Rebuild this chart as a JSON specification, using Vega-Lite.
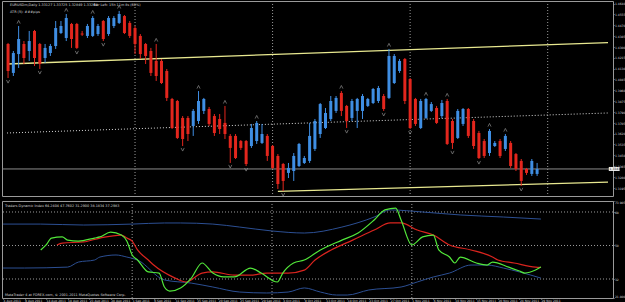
{
  "$schema": "https://vega.github.io/schema/vega-lite/v6.json",
  "background": "#000000",
  "padding": 0,
  "spacing": 1,
  "config": {
    "view": {"stroke": "#9a9a9a", "strokeWidth": 1},
    "axis": {"labelColor": "#d8d8d8", "labelFont": "DejaVu Sans", "labelFontSize": 3, "domain": false, "ticks": true, "tickColor": "#9a9a9a", "tickSize": 1, "grid": false, "labelOverlap": false, "labelPadding": 0.4},
    "text": {"font": "DejaVu Sans", "fontSize": 3.4, "color": "#d8d8d8", "align": "left", "baseline": "middle"}
  },
  "datasets": {
    "bars": [
      {"i":0,"o":1.4323,"h":1.4331,"l":1.4056,"c":1.4111,"f":"dn"},
      {"i":1,"o":1.4096,"h":1.4268,"l":1.4072,"c":1.4252},
      {"i":2,"o":1.4244,"h":1.4464,"l":1.4135,"c":1.4362,"f":"up"},
      {"i":3,"o":1.4323,"h":1.4346,"l":1.4166,"c":1.4213},
      {"i":4,"o":1.4268,"h":1.4425,"l":1.4190,"c":1.4346},
      {"i":5,"o":1.4425,"h":1.4433,"l":1.4150,"c":1.4213},
      {"i":6,"o":1.4323,"h":1.4331,"l":1.4127,"c":1.4166,"f":"dn"},
      {"i":7,"o":1.4213,"h":1.4323,"l":1.4174,"c":1.4292},
      {"i":8,"o":1.4252,"h":1.4323,"l":1.4229,"c":1.4307},
      {"i":9,"o":1.4307,"h":1.4503,"l":1.4284,"c":1.4448},
      {"i":10,"o":1.4409,"h":1.4503,"l":1.4401,"c":1.4464},
      {"i":11,"o":1.4370,"h":1.4558,"l":1.4346,"c":1.4527,"f":"up"},
      {"i":12,"o":1.4480,"h":1.4488,"l":1.4292,"c":1.4362},
      {"i":13,"o":1.4480,"h":1.4488,"l":1.4284,"c":1.4292,"f":"dn"},
      {"i":14,"o":1.4405,"h":1.4425,"l":1.4386,"c":1.4397},
      {"i":15,"o":1.4386,"h":1.4480,"l":1.4370,"c":1.4464},
      {"i":16,"o":1.4386,"h":1.4542,"l":1.4378,"c":1.4527,"f":"up"},
      {"i":17,"o":1.4401,"h":1.4480,"l":1.4386,"c":1.4464},
      {"i":18,"o":1.4503,"h":1.4511,"l":1.4346,"c":1.4362,"f":"dn"},
      {"i":19,"o":1.4401,"h":1.4542,"l":1.4386,"c":1.4527},
      {"i":20,"o":1.4464,"h":1.4542,"l":1.4448,"c":1.4527},
      {"i":21,"o":1.4488,"h":1.4582,"l":1.4480,"c":1.4558,"f":"up"},
      {"i":22,"o":1.4542,"h":1.4550,"l":1.4401,"c":1.4409},
      {"i":23,"o":1.4488,"h":1.4503,"l":1.4370,"c":1.4386},
      {"i":24,"o":1.4448,"h":1.4464,"l":1.4244,"c":1.4323},
      {"i":25,"o":1.4386,"h":1.4401,"l":1.4205,"c":1.4244},
      {"i":26,"o":1.4323,"h":1.4331,"l":1.4166,"c":1.4229},
      {"i":27,"o":1.4268,"h":1.4292,"l":1.4072,"c":1.4096},
      {"i":28,"o":1.4190,"h":1.4323,"l":1.4033,"c":1.4072,"f":"up"},
      {"i":29,"o":1.4190,"h":1.4205,"l":1.4009,"c":1.4017},
      {"i":30,"o":1.4111,"h":1.4127,"l":1.3876,"c":1.3900},
      {"i":31,"o":1.3892,"h":1.3900,"l":1.3656,"c":1.3664},
      {"i":32,"o":1.3876,"h":1.3884,"l":1.3578,"c":1.3586},
      {"i":33,"o":1.3743,"h":1.3758,"l":1.3523,"c":1.3578,"f":"dn"},
      {"i":34,"o":1.3743,"h":1.3758,"l":1.3562,"c":1.3617},
      {"i":35,"o":1.3680,"h":1.3813,"l":1.3602,"c":1.3798},
      {"i":36,"o":1.3719,"h":1.3954,"l":1.3696,"c":1.3876,"f":"up"},
      {"i":37,"o":1.3798,"h":1.3900,"l":1.3774,"c":1.3892},
      {"i":38,"o":1.3813,"h":1.3829,"l":1.3680,"c":1.3696},
      {"i":39,"o":1.3758,"h":1.3774,"l":1.3602,"c":1.3625},
      {"i":40,"o":1.3735,"h":1.3774,"l":1.3617,"c":1.3656},
      {"i":41,"o":1.3704,"h":1.3837,"l":1.3578,"c":1.3617,"f":"up"},
      {"i":42,"o":1.3602,"h":1.3617,"l":1.3390,"c":1.3508,"f":"dn"},
      {"i":43,"o":1.3602,"h":1.3617,"l":1.3421,"c":1.3429},
      {"i":44,"o":1.3562,"h":1.3570,"l":1.3492,"c":1.3508},
      {"i":45,"o":1.3562,"h":1.3570,"l":1.3366,"c":1.3382,"f":"dn"},
      {"i":46,"o":1.3523,"h":1.3696,"l":1.3508,"c":1.3664},
      {"i":47,"o":1.3562,"h":1.3719,"l":1.3539,"c":1.3704,"f":"up"},
      {"i":48,"o":1.3547,"h":1.3696,"l":1.3539,"c":1.3617},
      {"i":49,"o":1.3602,"h":1.3617,"l":1.3406,"c":1.3445},
      {"i":50,"o":1.3523,"h":1.3531,"l":1.3343,"c":1.3351},
      {"i":51,"o":1.3445,"h":1.3460,"l":1.3186,"c":1.3225},
      {"i":52,"o":1.3382,"h":1.3390,"l":1.3170,"c":1.3249,"f":"dn"},
      {"i":53,"o":1.3312,"h":1.3390,"l":1.3272,"c":1.3351},
      {"i":54,"o":1.3327,"h":1.3468,"l":1.3249,"c":1.3445},
      {"i":55,"o":1.3366,"h":1.3547,"l":1.3358,"c":1.3539},
      {"i":56,"o":1.3390,"h":1.3445,"l":1.3382,"c":1.3429},
      {"i":57,"o":1.3406,"h":1.3704,"l":1.3390,"c":1.3602},
      {"i":58,"o":1.3500,"h":1.3735,"l":1.3484,"c":1.3719},
      {"i":59,"o":1.3617,"h":1.3860,"l":1.3586,"c":1.3852},
      {"i":60,"o":1.3664,"h":1.3821,"l":1.3656,"c":1.3782},
      {"i":61,"o":1.3735,"h":1.3915,"l":1.3719,"c":1.3876},
      {"i":62,"o":1.3798,"h":1.3915,"l":1.3782,"c":1.3900},
      {"i":63,"o":1.3939,"h":1.3954,"l":1.3758,"c":1.3798,"f":"up"},
      {"i":64,"o":1.3837,"h":1.3845,"l":1.3664,"c":1.3719,"f":"dn"},
      {"i":65,"o":1.3743,"h":1.3892,"l":1.3719,"c":1.3876},
      {"i":66,"o":1.3798,"h":1.3900,"l":1.3664,"c":1.3892},
      {"i":67,"o":1.3798,"h":1.3931,"l":1.3735,"c":1.3915},
      {"i":68,"o":1.3837,"h":1.3900,"l":1.3829,"c":1.3892},
      {"i":69,"o":1.3860,"h":1.3978,"l":1.3852,"c":1.3970},
      {"i":70,"o":1.3876,"h":1.3994,"l":1.3860,"c":1.3978},
      {"i":71,"o":1.3915,"h":1.3931,"l":1.3798,"c":1.3813,"f":"dn"},
      {"i":72,"o":1.3900,"h":1.4284,"l":1.3892,"c":1.4229,"f":"up"},
      {"i":73,"o":1.4017,"h":1.4244,"l":1.4009,"c":1.4229},
      {"i":74,"o":1.4111,"h":1.4205,"l":1.4096,"c":1.4190},
      {"i":75,"o":1.4205,"h":1.4213,"l":1.3852,"c":1.3876},
      {"i":76,"o":1.4048,"h":1.4056,"l":1.3656,"c":1.3664,"f":"dn"},
      {"i":77,"o":1.3892,"h":1.3900,"l":1.3680,"c":1.3696},
      {"i":78,"o":1.3664,"h":1.3892,"l":1.3656,"c":1.3876},
      {"i":79,"o":1.3743,"h":1.3900,"l":1.3735,"c":1.3892,"f":"up"},
      {"i":80,"o":1.3798,"h":1.3868,"l":1.3790,"c":1.3852},
      {"i":81,"o":1.3821,"h":1.3837,"l":1.3696,"c":1.3704},
      {"i":82,"o":1.3758,"h":1.3884,"l":1.3743,"c":1.3860},
      {"i":83,"o":1.3876,"h":1.3892,"l":1.3531,"c":1.3539,"f":"up"},
      {"i":84,"o":1.3719,"h":1.3735,"l":1.3500,"c":1.3547,"f":"dn"},
      {"i":85,"o":1.3586,"h":1.3813,"l":1.3578,"c":1.3798},
      {"i":86,"o":1.3696,"h":1.3821,"l":1.3680,"c":1.3813},
      {"i":87,"o":1.3813,"h":1.3821,"l":1.3586,"c":1.3602},
      {"i":88,"o":1.3719,"h":1.3735,"l":1.3500,"c":1.3523},
      {"i":89,"o":1.3625,"h":1.3641,"l":1.3421,"c":1.3429,"f":"dn"},
      {"i":90,"o":1.3562,"h":1.3578,"l":1.3429,"c":1.3445},
      {"i":91,"o":1.3468,"h":1.3656,"l":1.3445,"c":1.3641,"f":"up"},
      {"i":92,"o":1.3523,"h":1.3562,"l":1.3515,"c":1.3547},
      {"i":93,"o":1.3562,"h":1.3578,"l":1.3429,"c":1.3445},
      {"i":94,"o":1.3500,"h":1.3617,"l":1.3484,"c":1.3602,"f":"up"},
      {"i":95,"o":1.3547,"h":1.3562,"l":1.3351,"c":1.3366},
      {"i":96,"o":1.3460,"h":1.3468,"l":1.3327,"c":1.3343},
      {"i":97,"o":1.3406,"h":1.3421,"l":1.3210,"c":1.3249,"f":"dn"},
      {"i":98,"o":1.3343,"h":1.3351,"l":1.3296,"c":1.3312},
      {"i":99,"o":1.3304,"h":1.3421,"l":1.3288,"c":1.3406},
      {"i":100,"o":1.3304,"h":1.3390,"l":1.3288,"c":1.3343}
    ],
    "trend": [
      {"name":"upper","i":-0.2,"p":1.4166},{"name":"upper","i":113.4,"p":1.4334},
      {"name":"lower","i":51,"p":1.3167},{"name":"lower","i":113.4,"p":1.3240},
      {"name":"mid","i":-0.2,"p":1.3625},{"name":"mid","i":113.4,"p":1.3782}
    ],
    "seps": [{"i":24},{"i":50},{"i":76},{"i":102}],
    "levels": [{"v":68},{"v":50},{"v":32}],
    "notes1": [
      {"t":"EURUSDm,Daily  1.33127 1.33725 1.32849 1.33264","i":-0.2,"p":1.4629},
      {"t":"Bar Left: 15h 11m 8s (60%)","i":15.6,"p":1.4629},
      {"t":"ATR (5):  ###pips","i":-0.2,"p":1.4574}
    ],
    "notes2": [
      {"t":"Traders Dynamic Index 64.2404 47.7602 31.2900 38.1834 37.2983","i":-0.2,"v":71.2},
      {"t":"MetaTrader 4 at FOREX.com, © 2001-2011 MetaQuotes Software Corp.","i":-0.2,"v":23.2}
    ],
    "tdi": [
      {"s":"up","i":0,"v":61.5},{"s":"up","i":7,"v":61.5},{"s":"up","i":15,"v":61.0},{"s":"up","i":24,"v":61.5},{"s":"up","i":30,"v":62.1},{"s":"up","i":33,"v":62.1},{"s":"up","i":39,"v":61.5},{"s":"up","i":44,"v":59.9},{"s":"up","i":50,"v":57.8},{"s":"up","i":56,"v":56.7},{"s":"up","i":63,"v":59.9},{"s":"up","i":69,"v":65.3},{"s":"up","i":72,"v":69.1},{"s":"up","i":78,"v":68.0},{"s":"up","i":85,"v":66.4},{"s":"up","i":93,"v":65.3},{"s":"up","i":100,"v":64.2},
      {"s":"lo","i":0,"v":37.9},{"s":"lo","i":4,"v":37.9},{"s":"lo","i":12,"v":38.4},{"s":"lo","i":14,"v":41.1},{"s":"lo","i":17,"v":42.2},{"s":"lo","i":18,"v":43.8},{"s":"lo","i":21,"v":44.9},{"s":"lo","i":23,"v":43.8},{"s":"lo","i":25,"v":42.2},{"s":"lo","i":30,"v":31.5},{"s":"lo","i":35,"v":29.8},{"s":"lo","i":39,"v":27.7},{"s":"lo","i":44,"v":25.0},{"s":"lo","i":49,"v":24.5},{"s":"lo","i":53,"v":25.0},{"s":"lo","i":56,"v":27.2},{"s":"lo","i":59,"v":25.0},{"s":"lo","i":62,"v":23.4},{"s":"lo","i":64,"v":23.4},{"s":"lo","i":68,"v":26.1},{"s":"lo","i":74,"v":27.7},{"s":"lo","i":77,"v":30.4},{"s":"lo","i":80,"v":33.1},{"s":"lo","i":83,"v":35.2},{"s":"lo","i":87,"v":39.5},{"s":"lo","i":90,"v":39.5},{"s":"lo","i":93,"v":37.9},{"s":"lo","i":96,"v":35.8},{"s":"lo","i":100,"v":32.5},
      {"s":"red","i":10,"v":50.3},{"s":"red","i":11,"v":51.3},{"s":"red","i":15,"v":51.9},{"s":"red","i":18,"v":54.0},{"s":"red","i":22,"v":55.6},{"s":"red","i":23,"v":54.0},{"s":"red","i":24,"v":52.4},{"s":"red","i":25,"v":47.6},{"s":"red","i":27,"v":42.2},{"s":"red","i":28,"v":39.5},{"s":"red","i":32,"v":32.5},{"s":"red","i":34,"v":30.4},{"s":"red","i":37,"v":35.2},{"s":"red","i":39,"v":35.8},{"s":"red","i":43,"v":34.1},{"s":"red","i":46,"v":34.1},{"s":"red","i":49,"v":35.2},{"s":"red","i":53,"v":35.2},{"s":"red","i":56,"v":36.8},{"s":"red","i":58,"v":42.2},{"s":"red","i":61,"v":47.6},{"s":"red","i":65,"v":52.9},{"s":"red","i":69,"v":58.3},{"s":"red","i":72,"v":62.1},{"s":"red","i":74,"v":62.1},{"s":"red","i":77,"v":58.3},{"s":"red","i":80,"v":55.6},{"s":"red","i":83,"v":50.3},{"s":"red","i":87,"v":47.6},{"s":"red","i":91,"v":43.8},{"s":"red","i":92,"v":42.2},{"s":"red","i":95,"v":40.6},{"s":"red","i":99,"v":38.4},{"s":"red","i":100,"v":38.2},
      {"s":"green","i":7,"v":47.6},{"s":"green","i":8,"v":50.3},{"s":"green","i":9,"v":54.0},{"s":"green","i":11,"v":54.6},{"s":"green","i":12,"v":52.9},{"s":"green","i":14,"v":52.4},{"s":"green","i":17,"v":54.0},{"s":"green","i":18,"v":54.6},{"s":"green","i":20,"v":57.2},{"s":"green","i":22,"v":55.6},{"s":"green","i":23,"v":52.4},{"s":"green","i":24,"v":44.9},{"s":"green","i":25,"v":42.2},{"s":"green","i":27,"v":35.8},{"s":"green","i":29,"v":35.2},{"s":"green","i":30,"v":27.7},{"s":"green","i":31,"v":25.5},{"s":"green","i":33,"v":27.2},{"s":"green","i":35,"v":32.5},{"s":"green","i":37,"v":40.6},{"s":"green","i":39,"v":35.2},{"s":"green","i":41,"v":33.1},{"s":"green","i":43,"v":33.1},{"s":"green","i":46,"v":37.9},{"s":"green","i":48,"v":35.2},{"s":"green","i":51,"v":30.4},{"s":"green","i":52,"v":35.2},{"s":"green","i":54,"v":40.6},{"s":"green","i":56,"v":42.2},{"s":"green","i":59,"v":47.6},{"s":"green","i":63,"v":52.9},{"s":"green","i":66,"v":56.7},{"s":"green","i":69,"v":63.7},{"s":"green","i":71,"v":69.1},{"s":"green","i":73,"v":70.1},{"s":"green","i":74,"v":63.7},{"s":"green","i":76,"v":50.3},{"s":"green","i":78,"v":54.6},{"s":"green","i":80,"v":55.6},{"s":"green","i":81,"v":47.6},{"s":"green","i":83,"v":43.8},{"s":"green","i":84,"v":40.6},{"s":"green","i":85,"v":43.8},{"s":"green","i":88,"v":40.6},{"s":"green","i":90,"v":39.5},{"s":"green","i":91,"v":41.1},{"s":"green","i":94,"v":38.4},{"s":"green","i":96,"v":36.3},{"s":"green","i":97,"v":35.2},{"s":"green","i":99,"v":36.8},{"s":"green","i":100,"v":38.4}
    ]
  },
  "vconcat": [
    {
      "width": 611,
      "height": 195,
      "layer": [
        {
          "data": {"name": "seps"},
          "mark": {"type": "rule", "color": "#9a9a9a", "strokeDash": [1, 2], "strokeWidth": 1},
          "encoding": {
            "x": {"field": "i", "type": "quantitative", "scale": {"domain": [-0.2, 113.4], "nice": false, "zero": false}, "axis": null}
          }
        },
        {
          "data": {"name": "bars"},
          "transform": [{"filter": "datum.i == 100"}],
          "mark": {"type": "rule", "color": "#8c8c8c", "strokeWidth": 1},
          "encoding": {
            "y": {"field": "c", "type": "quantitative", "scale": {"domain": [1.3131, 1.466], "nice": false, "zero": false},
                  "axis": {"orient": "right", "values": [1.464, 1.4555, 1.447, 1.4385, 1.43, 1.4215, 1.413, 1.4045, 1.396, 1.3875, 1.379, 1.3705, 1.362, 1.3535, 1.345, 1.3365, 1.328, 1.3195], "format": ".4f", "title": null}}
          }
        },
        {
          "data": {"name": "trend"},
          "transform": [{"filter": "datum.name == 'mid'"}],
          "mark": {"type": "line", "color": "#d8d8d8", "strokeDash": [1, 2], "strokeWidth": 1},
          "encoding": {
            "x": {"field": "i", "type": "quantitative", "scale": {"domain": [-0.2, 113.4], "nice": false, "zero": false}, "axis": null},
            "y": {"field": "p", "type": "quantitative", "scale": {"domain": [1.3131, 1.466], "nice": false, "zero": false},
                  "axis": {"orient": "right", "values": [1.464, 1.4555, 1.447, 1.4385, 1.43, 1.4215, 1.413, 1.4045, 1.396, 1.3875, 1.379, 1.3705, 1.362, 1.3535, 1.345, 1.3365, 1.328, 1.3195], "format": ".4f", "title": null}}
          }
        },
        {
          "data": {"name": "trend"},
          "transform": [{"filter": "datum.name != 'mid'"}],
          "mark": {"type": "line", "color": "#e8e890", "strokeWidth": 1.3},
          "encoding": {
            "x": {"field": "i", "type": "quantitative", "scale": {"domain": [-0.2, 113.4], "nice": false, "zero": false}, "axis": null},
            "y": {"field": "p", "type": "quantitative", "scale": {"domain": [1.3131, 1.466], "nice": false, "zero": false},
                  "axis": {"orient": "right", "values": [1.464, 1.4555, 1.447, 1.4385, 1.43, 1.4215, 1.413, 1.4045, 1.396, 1.3875, 1.379, 1.3705, 1.362, 1.3535, 1.345, 1.3365, 1.328, 1.3195], "format": ".4f", "title": null}},
            "detail": {"field": "name"}
          }
        },
        {
          "data": {"name": "bars"},
          "mark": {"type": "rule", "strokeWidth": 1},
          "encoding": {
            "x": {"field": "i", "type": "quantitative", "scale": {"domain": [-0.2, 113.4], "nice": false, "zero": false}, "axis": null},
            "y": {"field": "l", "type": "quantitative", "scale": {"domain": [1.3131, 1.466], "nice": false, "zero": false},
                  "axis": {"orient": "right", "values": [1.464, 1.4555, 1.447, 1.4385, 1.43, 1.4215, 1.413, 1.4045, 1.396, 1.3875, 1.379, 1.3705, 1.362, 1.3535, 1.345, 1.3365, 1.328, 1.3195], "format": ".4f", "title": null}},
            "y2": {"field": "h"},
            "color": {"condition": {"test": "datum.c >= datum.o", "value": "#3f8ee3"}, "value": "#e3261d"}
          }
        },
        {
          "data": {"name": "bars"},
          "mark": {"type": "bar", "width": 3},
          "encoding": {
            "x": {"field": "i", "type": "quantitative", "scale": {"domain": [-0.2, 113.4], "nice": false, "zero": false}, "axis": null},
            "y": {"field": "o", "type": "quantitative", "scale": {"domain": [1.3131, 1.466], "nice": false, "zero": false},
                  "axis": {"orient": "right", "values": [1.464, 1.4555, 1.447, 1.4385, 1.43, 1.4215, 1.413, 1.4045, 1.396, 1.3875, 1.379, 1.3705, 1.362, 1.3535, 1.345, 1.3365, 1.328, 1.3195], "format": ".4f", "title": null}},
            "y2": {"field": "c"},
            "color": {"condition": {"test": "datum.c >= datum.o", "value": "#3f8ee3"}, "value": "#e3261d"}
          }
        },
        {
          "data": {"name": "bars"},
          "transform": [{"filter": "datum.f == 'up'"}],
          "mark": {"type": "point", "shape": "M-1,1L0,-1L1,1", "size": 10, "filled": false, "stroke": "#b0b0b0", "strokeWidth": 0.8, "yOffset": -4},
          "encoding": {
            "x": {"field": "i", "type": "quantitative", "scale": {"domain": [-0.2, 113.4], "nice": false, "zero": false}, "axis": null},
            "y": {"field": "h", "type": "quantitative", "scale": {"domain": [1.3131, 1.466], "nice": false, "zero": false},
                  "axis": {"orient": "right", "values": [1.464, 1.4555, 1.447, 1.4385, 1.43, 1.4215, 1.413, 1.4045, 1.396, 1.3875, 1.379, 1.3705, 1.362, 1.3535, 1.345, 1.3365, 1.328, 1.3195], "format": ".4f", "title": null}}
          }
        },
        {
          "data": {"name": "bars"},
          "transform": [{"filter": "datum.f == 'dn'"}],
          "mark": {"type": "point", "shape": "M-1,-1L0,1L1,-1", "size": 10, "filled": false, "stroke": "#b0b0b0", "strokeWidth": 0.8, "yOffset": 3.5},
          "encoding": {
            "x": {"field": "i", "type": "quantitative", "scale": {"domain": [-0.2, 113.4], "nice": false, "zero": false}, "axis": null},
            "y": {"field": "l", "type": "quantitative", "scale": {"domain": [1.3131, 1.466], "nice": false, "zero": false},
                  "axis": {"orient": "right", "values": [1.464, 1.4555, 1.447, 1.4385, 1.43, 1.4215, 1.413, 1.4045, 1.396, 1.3875, 1.379, 1.3705, 1.362, 1.3535, 1.345, 1.3365, 1.328, 1.3195], "format": ".4f", "title": null}}
          }
        },
        {
          "data": {"name": "notes1"},
          "mark": {"type": "text", "dx": 3},
          "encoding": {
            "x": {"field": "i", "type": "quantitative", "scale": {"domain": [-0.2, 113.4], "nice": false, "zero": false}, "axis": null},
            "y": {"field": "p", "type": "quantitative", "scale": {"domain": [1.3131, 1.466], "nice": false, "zero": false},
                  "axis": {"orient": "right", "values": [1.464, 1.4555, 1.447, 1.4385, 1.43, 1.4215, 1.413, 1.4045, 1.396, 1.3875, 1.379, 1.3705, 1.362, 1.3535, 1.345, 1.3365, 1.328, 1.3195], "format": ".4f", "title": null}},
            "text": {"field": "t"}
          }
        },
        {
          "data": {"name": "bars"},
          "transform": [{"filter": "datum.i == 100"}],
          "mark": {"type": "rect", "color": "#f0f0f0", "height": 4},
          "encoding": {
            "x": {"datum": 113.55, "type": "quantitative", "scale": {"domain": [-0.2, 113.4], "nice": false, "zero": false}, "axis": null},
            "x2": {"datum": 115.6},
            "y": {"field": "c", "type": "quantitative", "scale": {"domain": [1.3131, 1.466], "nice": false, "zero": false},
                  "axis": {"orient": "right", "values": [1.464, 1.4555, 1.447, 1.4385, 1.43, 1.4215, 1.413, 1.4045, 1.396, 1.3875, 1.379, 1.3705, 1.362, 1.3535, 1.345, 1.3365, 1.328, 1.3195], "format": ".4f", "title": null}}
          }
        },
        {
          "data": {"name": "bars"},
          "transform": [{"filter": "datum.i == 100"}],
          "mark": {"type": "text", "color": "#000000", "fontSize": 3, "dx": 0.8},
          "encoding": {
            "x": {"datum": 113.55, "type": "quantitative", "scale": {"domain": [-0.2, 113.4], "nice": false, "zero": false}, "axis": null},
            "y": {"field": "c", "type": "quantitative", "scale": {"domain": [1.3131, 1.466], "nice": false, "zero": false},
                  "axis": {"orient": "right", "values": [1.464, 1.4555, 1.447, 1.4385, 1.43, 1.4215, 1.413, 1.4045, 1.396, 1.3875, 1.379, 1.3705, 1.362, 1.3535, 1.345, 1.3365, 1.328, 1.3195], "format": ".4f", "title": null}},
            "text": {"field": "c", "format": ".4f"}
          }
        }
      ]
    },
    {
      "width": 611,
      "height": 97,
      "layer": [
        {
          "data": {"name": "seps"},
          "transform": [{"filter": "datum.i < 100"}],
          "mark": {"type": "rule", "color": "#9a9a9a", "strokeDash": [1, 2], "strokeWidth": 1},
          "encoding": {
            "x": {"field": "i", "type": "quantitative", "scale": {"domain": [-0.2, 113.4], "nice": false, "zero": false},
                  "axis": {"values": [0,4,8,12,16,20,24,28,32,36,40,44,48,52,56,60,64,68,72,76,80,84,88,92,96,100], "labelExpr": "['4 Aug 2011','9 Aug 2011','14 Aug 2011','18 Aug 2011','23 Aug 2011','28 Aug 2011','1 Sep 2011','6 Sep 2011','11 Sep 2011','15 Sep 2011','20 Sep 2011','25 Sep 2011','29 Sep 2011','4 Oct 2011','9 Oct 2011','13 Oct 2011','18 Oct 2011','23 Oct 2011','27 Oct 2011','1 Nov 2011','6 Nov 2011','10 Nov 2011','15 Nov 2011','20 Nov 2011','24 Nov 2011','29 Nov 2011'][round(datum.value / 4)]", "labelAlign": "left", "title": null}}
          }
        },
        {
          "data": {"name": "levels"},
          "mark": {"type": "rule", "color": "#9a9a9a", "strokeDash": [1, 2], "strokeWidth": 1},
          "encoding": {
            "y": {"field": "v", "type": "quantitative", "scale": {"domain": [21.8, 73.9], "nice": false, "zero": false},
                  "axis": {"orient": "right", "values": [73.9, 68, 50, 32, 21.8], "labelFlush": true, "labelExpr": "datum.value > 70 ? '73.905' : datum.value < 25 ? '21.800' : format(datum.value, 'd')", "title": null}}
          }
        },
        {
          "data": {"name": "tdi"},
          "transform": [{"filter": "datum.s == 'up' || datum.s == 'lo'"}],
          "mark": {"type": "line", "color": "#2c4f93", "strokeWidth": 1, "interpolate": "monotone"},
          "encoding": {
            "x": {"field": "i", "type": "quantitative", "scale": {"domain": [-0.2, 113.4], "nice": false, "zero": false},
                  "axis": {"values": [0,4,8,12,16,20,24,28,32,36,40,44,48,52,56,60,64,68,72,76,80,84,88,92,96,100], "labelExpr": "['4 Aug 2011','9 Aug 2011','14 Aug 2011','18 Aug 2011','23 Aug 2011','28 Aug 2011','1 Sep 2011','6 Sep 2011','11 Sep 2011','15 Sep 2011','20 Sep 2011','25 Sep 2011','29 Sep 2011','4 Oct 2011','9 Oct 2011','13 Oct 2011','18 Oct 2011','23 Oct 2011','27 Oct 2011','1 Nov 2011','6 Nov 2011','10 Nov 2011','15 Nov 2011','20 Nov 2011','24 Nov 2011','29 Nov 2011'][round(datum.value / 4)]", "labelAlign": "left", "title": null}},
            "y": {"field": "v", "type": "quantitative", "scale": {"domain": [21.8, 73.9], "nice": false, "zero": false},
                  "axis": {"orient": "right", "values": [73.9, 68, 50, 32, 21.8], "labelFlush": true, "labelExpr": "datum.value > 70 ? '73.905' : datum.value < 25 ? '21.800' : format(datum.value, 'd')", "title": null}},
            "detail": {"field": "s"}
          }
        },
        {
          "data": {"name": "tdi"},
          "transform": [{"filter": "datum.s == 'red'"}],
          "mark": {"type": "line", "color": "#d9241e", "strokeWidth": 1.2, "interpolate": "monotone"},
          "encoding": {
            "x": {"field": "i", "type": "quantitative", "scale": {"domain": [-0.2, 113.4], "nice": false, "zero": false},
                  "axis": {"values": [0,4,8,12,16,20,24,28,32,36,40,44,48,52,56,60,64,68,72,76,80,84,88,92,96,100], "labelExpr": "['4 Aug 2011','9 Aug 2011','14 Aug 2011','18 Aug 2011','23 Aug 2011','28 Aug 2011','1 Sep 2011','6 Sep 2011','11 Sep 2011','15 Sep 2011','20 Sep 2011','25 Sep 2011','29 Sep 2011','4 Oct 2011','9 Oct 2011','13 Oct 2011','18 Oct 2011','23 Oct 2011','27 Oct 2011','1 Nov 2011','6 Nov 2011','10 Nov 2011','15 Nov 2011','20 Nov 2011','24 Nov 2011','29 Nov 2011'][round(datum.value / 4)]", "labelAlign": "left", "title": null}},
            "y": {"field": "v", "type": "quantitative", "scale": {"domain": [21.8, 73.9], "nice": false, "zero": false},
                  "axis": {"orient": "right", "values": [73.9, 68, 50, 32, 21.8], "labelFlush": true, "labelExpr": "datum.value > 70 ? '73.905' : datum.value < 25 ? '21.800' : format(datum.value, 'd')", "title": null}}
          }
        },
        {
          "data": {"name": "tdi"},
          "transform": [{"filter": "datum.s == 'green'"}],
          "mark": {"type": "line", "color": "#52e83a", "strokeWidth": 1.2, "interpolate": "monotone"},
          "encoding": {
            "x": {"field": "i", "type": "quantitative", "scale": {"domain": [-0.2, 113.4], "nice": false, "zero": false},
                  "axis": {"values": [0,4,8,12,16,20,24,28,32,36,40,44,48,52,56,60,64,68,72,76,80,84,88,92,96,100], "labelExpr": "['4 Aug 2011','9 Aug 2011','14 Aug 2011','18 Aug 2011','23 Aug 2011','28 Aug 2011','1 Sep 2011','6 Sep 2011','11 Sep 2011','15 Sep 2011','20 Sep 2011','25 Sep 2011','29 Sep 2011','4 Oct 2011','9 Oct 2011','13 Oct 2011','18 Oct 2011','23 Oct 2011','27 Oct 2011','1 Nov 2011','6 Nov 2011','10 Nov 2011','15 Nov 2011','20 Nov 2011','24 Nov 2011','29 Nov 2011'][round(datum.value / 4)]", "labelAlign": "left", "title": null}},
            "y": {"field": "v", "type": "quantitative", "scale": {"domain": [21.8, 73.9], "nice": false, "zero": false},
                  "axis": {"orient": "right", "values": [73.9, 68, 50, 32, 21.8], "labelFlush": true, "labelExpr": "datum.value > 70 ? '73.905' : datum.value < 25 ? '21.800' : format(datum.value, 'd')", "title": null}}
          }
        },
        {
          "data": {"name": "notes2"},
          "mark": {"type": "text", "dx": 3},
          "encoding": {
            "x": {"field": "i", "type": "quantitative", "scale": {"domain": [-0.2, 113.4], "nice": false, "zero": false},
                  "axis": {"values": [0,4,8,12,16,20,24,28,32,36,40,44,48,52,56,60,64,68,72,76,80,84,88,92,96,100], "labelExpr": "['4 Aug 2011','9 Aug 2011','14 Aug 2011','18 Aug 2011','23 Aug 2011','28 Aug 2011','1 Sep 2011','6 Sep 2011','11 Sep 2011','15 Sep 2011','20 Sep 2011','25 Sep 2011','29 Sep 2011','4 Oct 2011','9 Oct 2011','13 Oct 2011','18 Oct 2011','23 Oct 2011','27 Oct 2011','1 Nov 2011','6 Nov 2011','10 Nov 2011','15 Nov 2011','20 Nov 2011','24 Nov 2011','29 Nov 2011'][round(datum.value / 4)]", "labelAlign": "left", "title": null}},
            "y": {"field": "v", "type": "quantitative", "scale": {"domain": [21.8, 73.9], "nice": false, "zero": false},
                  "axis": {"orient": "right", "values": [73.9, 68, 50, 32, 21.8], "labelFlush": true, "labelExpr": "datum.value > 70 ? '73.905' : datum.value < 25 ? '21.800' : format(datum.value, 'd')", "title": null}},
            "text": {"field": "t"}
          }
        }
      ]
    }
  ]
}
